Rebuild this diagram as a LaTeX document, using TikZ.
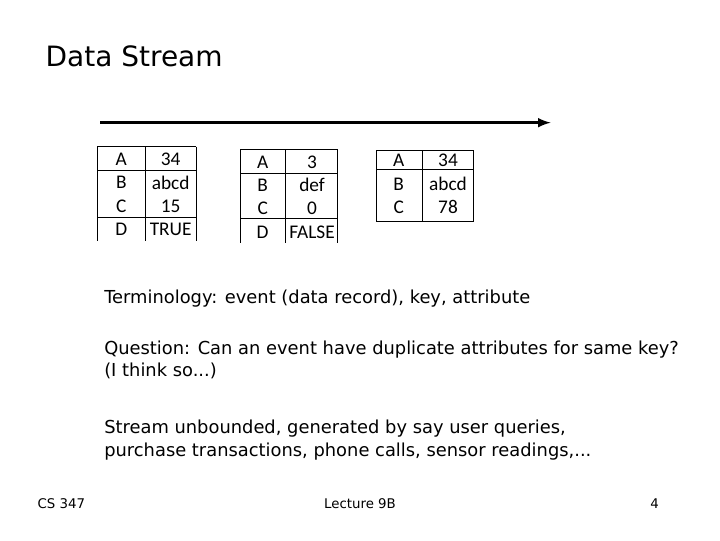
\documentclass[tikz,border=0pt]{standalone}
\usepackage{fontspec}
\setmainfont{DejaVu Sans}
\newfontfamily\cellfont{Carlito}
\begin{document}
\begin{tikzpicture}[x=1pt,y=-1pt,
    cell/.style={font=\cellfont\fontsize{14.5}{14.5}\selectfont,inner sep=0pt},
    body/.style={anchor=west,align=left,font=\fontsize{13.4}{17}\selectfont,inner sep=0pt}]
  \useasboundingbox (0,0) rectangle (540,405);
  % title and stream arrow
  \node[anchor=west,font=\fontsize{21}{21}\selectfont,inner sep=0pt] (title) at (34,42) {Data Stream};
  \coordinate (s0) at (75,92);
  \coordinate (s1) at (413,92);
  \draw[line width=2.2pt,-latex] (s0) -- (s1);
  % first event
  \begin{scope}[shift={(73,110)}]
    \draw (0,0)--(74,0) (0,18)--(74,18) (0,53)--(74,53)
          (0,0)--(0,71) (36,0)--(36,71) (74,0)--(74,71);
    \foreach \k/\v [count=\i] in {A/34,B/abcd,C/15,D/TRUE}
      \node[cell] (ea\i) at (18,{-8+17.5*\i}) {\k} node[cell] (va\i) at (55,{-8+17.5*\i}) {\v};
  \end{scope}
  % second event
  \begin{scope}[shift={(180,112)}]
    \draw (0,0)--(73,0) (0,18)--(73,18) (0,52)--(73,52)
          (0,0)--(0,70) (34,0)--(34,70) (73,0)--(73,70);
    \foreach \k/\v [count=\i] in {A/3,B/def,C/0,D/FALSE}
      \node[cell] (eb\i) at (17,{-8+17.5*\i}) {\k} node[cell] (vb\i) at (54,{-8+17.5*\i}) {\v};
  \end{scope}
  % third event
  \begin{scope}[shift={(282,113)}]
    \draw (0,0) rectangle (73,53) (0,14)--(73,14) (35,0)--(35,53);
    \foreach \k/\v [count=\i] in {A/34,B/abcd,C/78}
      \node[cell] (ec\i) at (17,{-10+17.5*\i}) {\k} node[cell] (vc\i) at (54,{-10+17.5*\i}) {\v};
  \end{scope}
  % text
  \node[body] (term) at (78,224) {Terminology: event (data record), key, attribute};
  \node[body] (quest) at (78,270) {Question: Can an event have duplicate attributes for same key?\\(I think so...)};
  \node[body] (strm) at (78,330) {Stream unbounded, generated by say user queries,\\purchase transactions, phone calls, sensor readings,...};
  % footer
  \node[font=\fontsize{10}{10}\selectfont] (left) at (46,378) {CS 347};
  \node[font=\fontsize{10}{10}\selectfont] (mid) at (270,378) {Lecture 9B};
  \node[font=\fontsize{10}{10}\selectfont] (right) at (491,378) {4};
\end{tikzpicture}
\end{document}
